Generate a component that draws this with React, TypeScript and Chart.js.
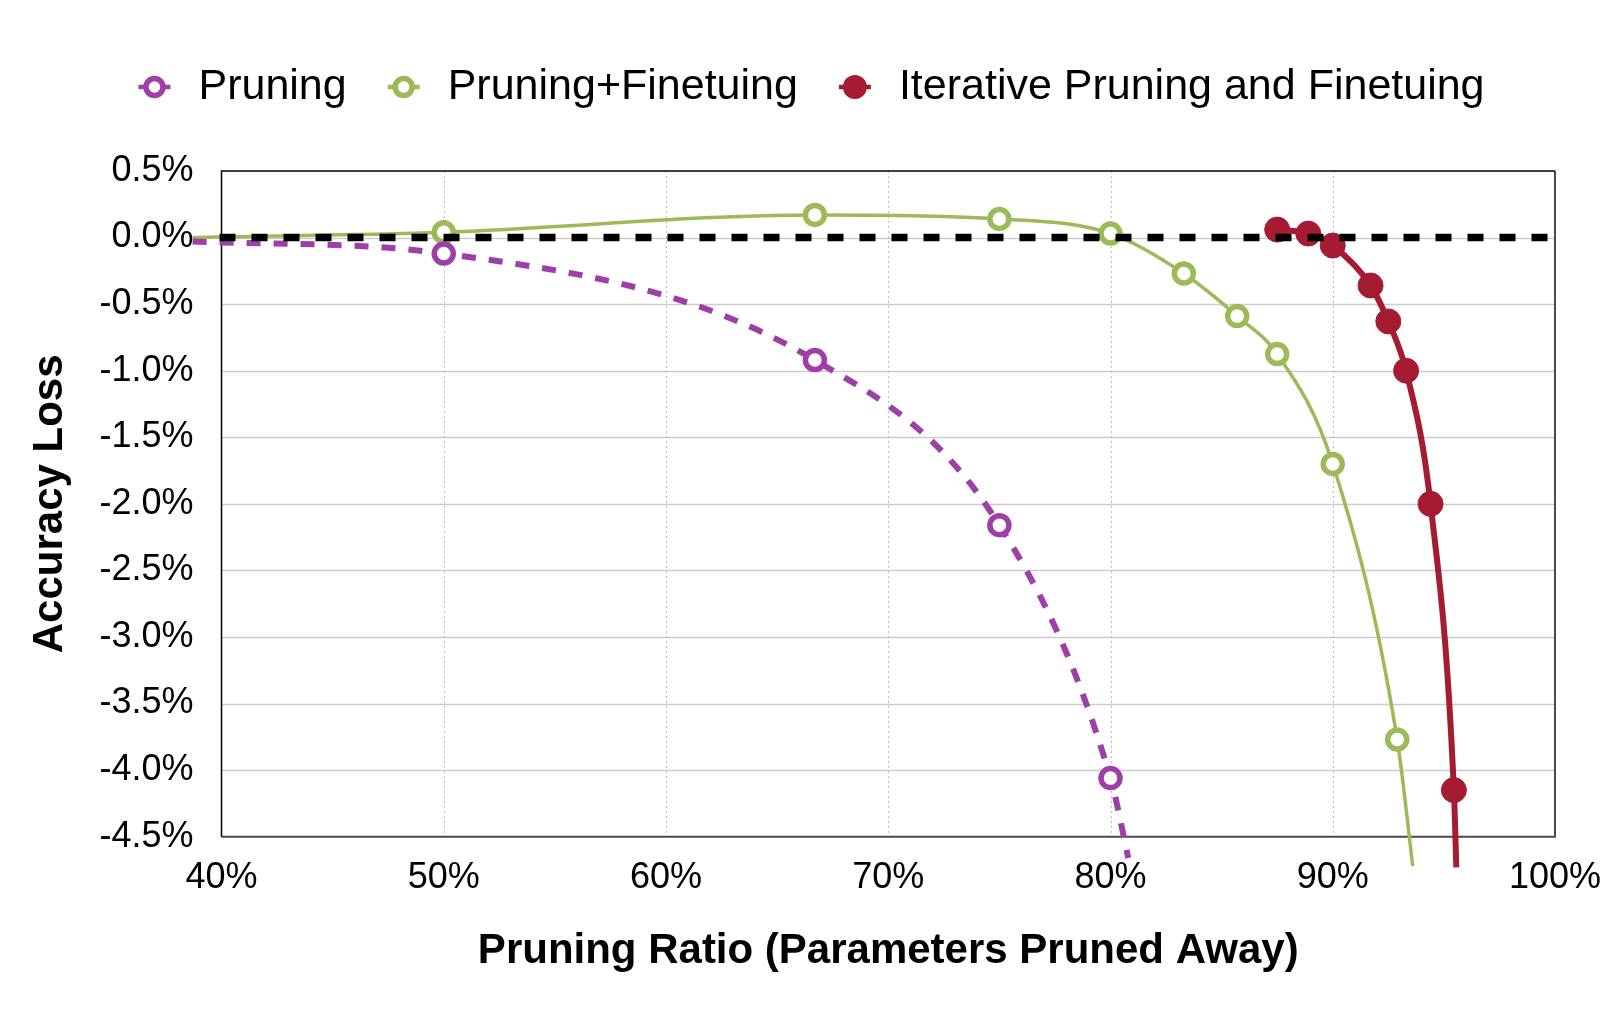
import React, { useEffect, useRef } from 'react';
import { Chart, registerables } from 'chart.js';

Chart.register(...registerables);

// ---- data ----
const seriesNames = ['Pruning', 'Pruning+Finetuing', 'Iterative Pruning and Finetuing'];

// Pruning (first and last entries are the ends of the drawn curve, without markers)
const pruningX = [38.7, 50, 66.7, 75, 80, 80.8];
const pruningY = [-0.03, -0.12, -0.92, -2.16, -4.06, -4.66];
const pruningMarked = [false, true, true, true, true, false];

// Pruning + Finetuning
const finetuneX = [38.7, 50, 66.7, 75, 80, 83.3, 85.7, 87.5, 90, 92.9, 93.6];
const finetuneY = [0.0, 0.04, 0.17, 0.14, 0.03, -0.27, -0.59, -0.875, -1.7, -3.77, -4.72];
const finetuneMarked = [false, true, true, true, true, true, true, true, true, true, false];

// Iterative pruning and finetuning
const iterativeX = [87.5, 88.9, 90, 91.7, 92.5, 93.3, 94.4, 95.45, 95.56];
const iterativeY = [0.06, 0.03, -0.06, -0.36, -0.63, -1.0, -2.0, -4.15, -4.73];
const iterativeMarked = [true, true, true, true, true, true, true, true, false];

const xTicksMin = 40;
const xTicksMax = 100;
const xTickStep = 10;
const yTicksMin = -4.5;
const yTicksMax = 0.5;
const yTickStep = 0.5;

const COLORS = ['#9E3FA8', '#9BBB59', '#A51C32'];
const FONT = "'Liberation Sans', Arial, Helvetica, sans-serif";

const toPoints = (xs: number[], ys: number[]) => xs.map((x, i) => ({ x, y: ys[i] }));

const plotDecor = {
  id: 'plotDecor',
  beforeDatasetsDraw(chart: any) {
    const { ctx, chartArea: a, scales } = chart;
    const xs = scales.x;
    const ys = scales.y;
    ctx.save();
    // horizontal grid
    ctx.strokeStyle = '#cccccc';
    ctx.lineWidth = 1.5;
    for (let v = yTicksMin + yTickStep; v < yTicksMax - 1e-9; v += yTickStep) {
      const py = Math.round(ys.getPixelForValue(v)) + 0.5;
      ctx.beginPath();
      ctx.moveTo(a.left, py);
      ctx.lineTo(a.right, py);
      ctx.stroke();
    }
    // vertical dotted grid
    ctx.strokeStyle = '#bdbdbd';
    ctx.lineWidth = 1;
    ctx.setLineDash([2, 3]);
    for (let v = xTicksMin + xTickStep; v < xTicksMax - 1e-9; v += xTickStep) {
      const px = Math.round(xs.getPixelForValue(v)) + 0.5;
      ctx.beginPath();
      ctx.moveTo(px, a.top);
      ctx.lineTo(px, a.bottom);
      ctx.stroke();
    }
    ctx.setLineDash([]);
    // frame
    ctx.lineWidth = 2;
    ctx.strokeStyle = '#4a4a4a';
    ctx.beginPath();
    ctx.moveTo(a.right, a.top);
    ctx.lineTo(a.right, a.bottom);
    ctx.lineTo(a.left, a.bottom);
    ctx.stroke();
    ctx.strokeStyle = '#000000';
    ctx.lineWidth = 1.5;
    ctx.beginPath();
    ctx.moveTo(a.left, a.bottom);
    ctx.lineTo(a.left, a.top);
    ctx.lineTo(a.right, a.top);
    ctx.stroke();
    ctx.restore();
  },
  afterDatasetsDraw(chart: any) {
    const { ctx, chartArea: a, scales } = chart;
    const py = scales.y.getPixelForValue(0);
    ctx.save();
    ctx.strokeStyle = '#000000';
    ctx.lineWidth = 7.5;
    ctx.lineCap = 'butt';
    ctx.setLineDash([16, 16]);
    ctx.beginPath();
    ctx.moveTo(a.left - 2, py);
    ctx.lineTo(a.right, py);
    ctx.stroke();
    ctx.restore();
  },
  afterDraw(chart: any) {
    const { ctx, width } = chart;
    const y = 87;
    const stub = 16;
    const markerToText = 44;
    const itemGap = 57;
    ctx.save();
    ctx.font = `43px ${FONT}`;
    ctx.textBaseline = 'middle';
    ctx.textAlign = 'left';
    const widths = seriesNames.map((n) => ctx.measureText(n).width);
    let total = stub;
    widths.forEach((w, i) => {
      total += markerToText + w + (i < widths.length - 1 ? itemGap : 0);
    });
    let x = width / 2 - total / 2 + stub;
    seriesNames.forEach((name, i) => {
      const c = COLORS[i];
      ctx.strokeStyle = c;
      ctx.lineWidth = 4.5;
      ctx.setLineDash([]);
      ctx.beginPath();
      ctx.moveTo(x - stub, y);
      ctx.lineTo(x + stub, y);
      ctx.stroke();
      ctx.beginPath();
      if (i === 2) {
        ctx.fillStyle = c;
        ctx.arc(x, y, 12, 0, Math.PI * 2);
        ctx.fill();
      } else {
        ctx.fillStyle = '#ffffff';
        ctx.arc(x, y, 8.5, 0, Math.PI * 2);
        ctx.fill();
        ctx.lineWidth = 5.5;
        ctx.stroke();
      }
      ctx.fillStyle = '#000000';
      ctx.fillText(name, x + markerToText, y);
      x += markerToText + widths[i] + itemGap;
    });
    ctx.restore();
  },
};

export default function App() {
  const ref = useRef<HTMLCanvasElement | null>(null);
  useEffect(() => {
    if (!ref.current) return;
    Chart.defaults.font.family = FONT;
    const chart = new Chart(ref.current, {
      type: 'line',
      data: {
        datasets: [
          {
            label: seriesNames[0],
            data: toPoints(pruningX, pruningY),
            borderColor: COLORS[0],
            backgroundColor: '#ffffff',
            borderWidth: 6,
            borderDash: [14, 13],
            pointRadius: pruningMarked.map((m) => (m ? 9.5 : 0)),
            pointBorderWidth: 5.5,
            pointBackgroundColor: '#ffffff',
            pointBorderColor: COLORS[0],
            cubicInterpolationMode: 'monotone',
            clip: false,
          } as any,
          {
            label: seriesNames[1],
            data: toPoints(finetuneX, finetuneY),
            borderColor: COLORS[1],
            backgroundColor: '#ffffff',
            borderWidth: 3.5,
            pointRadius: finetuneMarked.map((m) => (m ? 9.5 : 0)),
            pointBorderWidth: 5.5,
            pointBackgroundColor: '#ffffff',
            pointBorderColor: COLORS[1],
            cubicInterpolationMode: 'monotone',
            clip: false,
          } as any,
          {
            label: seriesNames[2],
            data: toPoints(iterativeX, iterativeY),
            borderColor: COLORS[2],
            backgroundColor: COLORS[2],
            borderWidth: 6,
            pointRadius: iterativeMarked.map((m) => (m ? 12.5 : 0)),
            pointBorderWidth: 1,
            pointBackgroundColor: COLORS[2],
            pointBorderColor: COLORS[2],
            cubicInterpolationMode: 'monotone',
            clip: false,
          } as any,
        ],
      },
      options: {
        animation: false,
        responsive: false,
        devicePixelRatio: 1,
        layout: { padding: { top: 171, right: 68, bottom: 0, left: 0 } },
        plugins: { legend: { display: false }, tooltip: { enabled: false }, title: { display: false } },
        scales: {
          x: {
            type: 'linear',
            min: xTicksMin,
            max: xTicksMax,
            grid: { display: false, drawTicks: false },
            border: { display: false },
            ticks: {
              stepSize: xTickStep,
              padding: 20,
              color: '#000',
              font: { size: 36, family: FONT },
              maxRotation: 0,
              autoSkip: false,
              callback: (v: any) => `${v}%`,
            },
            title: {
              display: true,
              text: 'Pruning Ratio (Parameters Pruned Away)',
              color: '#000',
              font: { size: 42, weight: 'bold', family: FONT },
              padding: { top: 0, bottom: 58 },
            },
            afterFit: (s: any) => {
              s.height = 1035 - 836.7;
            },
          },
          y: {
            type: 'linear',
            min: yTicksMin,
            max: yTicksMax,
            grid: { display: false, drawTicks: false },
            border: { display: false },
            ticks: {
              stepSize: yTickStep,
              padding: 28,
              color: '#000',
              font: { size: 36, family: FONT },
              autoSkip: false,
              callback: (v: any) => `${Number(v).toFixed(1)}%`,
            },
            title: {
              display: true,
              text: 'Accuracy Loss',
              color: '#000',
              font: { size: 42, weight: 'bold', family: FONT },
              padding: { top: 25, bottom: 0 },
            },
            afterFit: (s: any) => {
              s.width = 221.5;
            },
          },
        },
      },
      plugins: [plotDecor],
    } as any);
    return () => chart.destroy();
  }, []);
  return (
    <div style={{ position: 'absolute', left: 0, top: 0, width: 1623, height: 1035, background: '#fff' }}>
      <canvas ref={ref} width={1623} height={1035} style={{ width: 1623, height: 1035 }} />
    </div>
  );
}
